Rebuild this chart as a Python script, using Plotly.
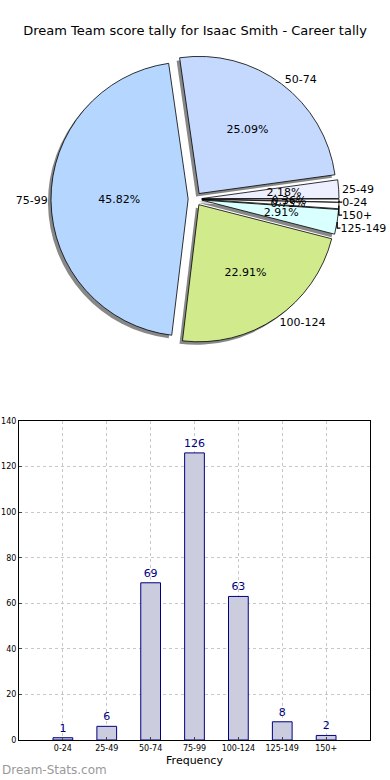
import plotly.graph_objects as go

categories = ["0-24", "25-49", "50-74", "75-99", "100-124", "125-149", "150+"]
counts = [1, 6, 69, 126, 63, 8, 2]
slice_colors = ["#ffffff", "#eef0ff", "#c5d9ff", "#b5d7ff", "#d1ea8c", "#d9ffff", "#ffffff"]
small_slice = [c / sum(counts) < 0.05 for c in counts]
title_text = "Dream Team score tally for Isaac Smith - Career tally"
xlabel = "Frequency"
watermark = "Dream-Stats.com"

FONT = "DejaVu Sans"
pulls = [0.05] * len(categories)

H = 780
pie_cy = 199
pie_dom_y = [1 - (pie_cy + 144) / H, 1 - (pie_cy - 144) / H]
inner_dom_y = [1 - (pie_cy + 95) / H, 1 - (pie_cy - 95) / H]
shadow_dx = 3 / 390
shadow_dy = 3 / H

fig = go.Figure()

# shadow
fig.add_trace(go.Pie(
    labels=categories, values=counts, sort=False, direction="counterclockwise", rotation=90,
    pull=pulls, marker=dict(colors=["#888888"] * 7, line=dict(width=0)),
    textinfo="none", hoverinfo="skip", showlegend=False, automargin=False,
    domain=dict(x=[0, 1 - 2 * shadow_dx], y=[pie_dom_y[0] - shadow_dy, pie_dom_y[1] - shadow_dy]),
))
# main pie with percentages (large slices) inside
fig.add_trace(go.Pie(
    labels=categories, values=counts, sort=False, direction="counterclockwise", rotation=90,
    pull=pulls, marker=dict(colors=slice_colors, line=dict(color="#000000", width=0.8)),
    textinfo="percent", texttemplate=["" if s else "%{percent:.2%}" for s in small_slice],
    textposition="inside", insidetextorientation="horizontal", automargin=False,
    textfont=dict(family=FONT, size=11, color="#000000"), showlegend=False,
    domain=dict(x=[0, 1], y=pie_dom_y),
))
# inner transparent ring carrying the small-slice percentages
fig.add_trace(go.Pie(
    labels=categories, values=counts, sort=False, direction="counterclockwise", rotation=90,
    pull=pulls, marker=dict(colors=["rgba(0,0,0,0)"] * 7, line=dict(width=0)),
    textinfo="percent", texttemplate=["%{percent:.2%}" if s else "" for s in small_slice],
    textposition="inside", insidetextorientation="horizontal", automargin=False,
    hoverinfo="skip",
    textfont=dict(family=FONT, size=11, color="#000000"), showlegend=False,
    domain=dict(x=[0, 1], y=inner_dom_y),
))
# label ring outside
fig.add_trace(go.Pie(
    labels=categories, values=counts, sort=False, direction="counterclockwise", rotation=90,
    pull=pulls, marker=dict(colors=["rgba(0,0,0,0)"] * 7, line=dict(width=0)),
    textinfo="label", textposition="outside", hoverinfo="skip", automargin=False,
    outsidetextfont=dict(family=FONT, size=11, color="#000000"), showlegend=False,
    domain=dict(x=[0, 1], y=pie_dom_y),
))

fig.add_trace(go.Bar(
    x=list(range(len(categories))), y=counts, width=0.45,
    marker=dict(color="#ccccdf", line=dict(color="#000080", width=1)),
    text=[str(c) for c in counts], textposition="outside",
    textfont=dict(family=FONT, size=11, color="#000080"), cliponaxis=False,
    showlegend=False, xaxis="x", yaxis="y",
))

fig.update_layout(
    width=390, height=H, margin=dict(l=0, r=0, t=0, b=0, autoexpand=False),
    paper_bgcolor="white", plot_bgcolor="white",
    font=dict(family=FONT, color="#000000"),
    uniformtext=dict(minsize=11, mode="show"),
    title=dict(text=title_text, x=0.5, xanchor="center", y=1 - 30 / H, yanchor="middle",
               font=dict(family=FONT, size=13, color="#000000"), automargin=False),
    xaxis=dict(domain=[19 / 390, 370 / 390], range=[-1, 7], tickmode="array",
               tickvals=list(range(len(categories))), ticktext=categories, tickangle=0,
               automargin=False,
               showgrid=True, gridcolor="#c8c8c8", griddash="dot", gridwidth=1,
               showline=True, linecolor="#000000", mirror=True, ticks="inside", ticklen=3,
               tickfont=dict(family=FONT, size=8, color="#000000"), zeroline=False,
               title=dict(text=xlabel, font=dict(family=FONT, size=11), standoff=4)),
    yaxis=dict(domain=[1 - 740 / H, 1 - 421 / H], range=[0, 140], dtick=20,
               automargin=False,
               showgrid=True, gridcolor="#c8c8c8", griddash="dot", gridwidth=1,
               showline=True, linecolor="#000000", mirror=True, ticks="inside", ticklen=3,
               tickfont=dict(family=FONT, size=8, color="#000000"), zeroline=False),
    annotations=[dict(text=watermark, x=0, y=1 - 770 / H, xref="paper", yref="paper",
                      xanchor="left", yanchor="middle", showarrow=False,
                      font=dict(family=FONT, size=12, color="#999999"))],
)

fig.write_html("out.html", config={"displayModeBar": False},
               post_script="document.body.style.margin='0';")
